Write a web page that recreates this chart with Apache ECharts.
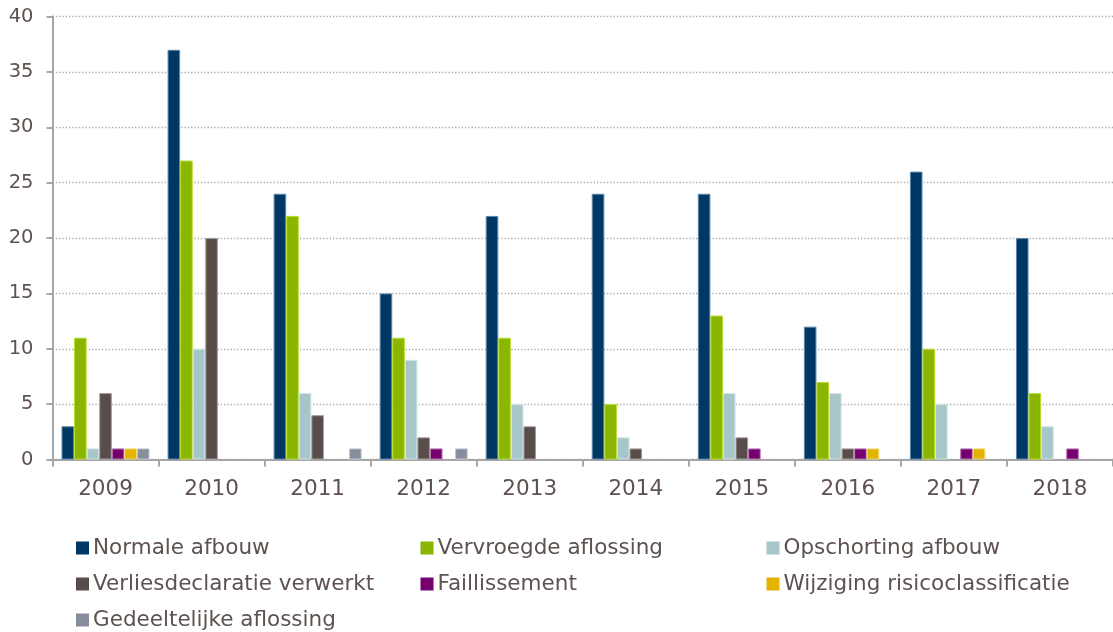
<!DOCTYPE html>
<html>
<head>
<meta charset="utf-8">
<script src="https://cdn.jsdelivr.net/npm/echarts@6/dist/echarts.min.js"></script>
<style>
  html, body { margin: 0; padding: 0; background: #fff; }
  #chart { width: 1113px; height: 632px; }
</style>
</head>
<body>
<div id="chart"></div>
<script>
// categorieën en waarden per reeks
const years = ['2009','2010','2011','2012','2013','2014','2015','2016','2017','2018']
const normaleAfbouw = [3, 37, 24, 15, 22, 24, 24, 12, 26, 20]
const vervroegdeAflossing = [11, 27, 22, 11, 11, 5, 13, 7, 10, 6]
const opschortingAfbouw = [1, 10, 6, 9, 5, 2, 6, 6, 5, 3]
const verliesdeclaratie = [6, 20, 4, 2, 3, 1, 2, 1, 0, 0]
const faillissement = [1, 0, 0, 1, 0, 0, 1, 1, 1, 1]
const wijziging = [1, 0, 0, 0, 0, 0, 0, 1, 1, 0]
const gedeeltelijkeAflossing = [1, 0, 1, 1, 0, 0, 0, 0, 0, 0]
const yTicks = [0, 5, 10, 15, 20, 25, 30, 35, 40]

const textColor = '#5e5250'
const font = 'DejaVu Sans'

const seriesDefs = [
    ['Normale afbouw', normaleAfbouw, '#003865', '#5f86a8'],
    ['Vervroegde aflossing', vervroegdeAflossing, '#8ab500', '#b9dc2a'],
    ['Opschorting afbouw', opschortingAfbouw, '#a7c6c9', '#d3e4e5'],
    ['Verliesdeclaratie verwerkt', verliesdeclaratie, '#594d4b', '#a59b99'],
    ['Faillissement', faillissement, '#76006e', '#b277ad'],
    ['Wijziging risicoclassificatie', wijziging, '#e3b300', '#f3d77a'],
    ['Gedeeltelijke aflossing', gedeeltelijkeAflossing, '#868d9c', '#c2c7cf']
]

// legenda in drie kolommen: elk item een eigen legend
const legendPos = [
    ['Normale afbouw', 76, 537],
    ['Vervroegde aflossing', 420.5, 537],
    ['Opschorting afbouw', 766.5, 537],
    ['Verliesdeclaratie verwerkt', 76, 573],
    ['Faillissement', 420.5, 573],
    ['Wijziging risicoclassificatie', 766.5, 573],
    ['Gedeeltelijke aflossing', 76, 609]
]

const chart = echarts.init(document.getElementById('chart'))

const option = {
    animation: false,
    textStyle: { fontFamily: font },
    grid: { left: 52.5, right: -4.5, top: 16.6, bottom: 172.5 },
    legend: legendPos.map(([name, left, top]) => ({
        left,
        top,
        padding: 0,
        itemWidth: 13,
        itemHeight: 13,
        icon: 'rect',
        selectedMode: false,
        data: [name],
        itemStyle: { borderWidth: 0 },
        textStyle: { fontFamily: font, fontSize: 21.5, color: textColor, lineHeight: 21, padding: [0, 0, 0, -1] }
    })),
    xAxis: {
        type: 'category',
        data: years,
        axisLine: { lineStyle: { color: '#a6a6a6', width: 2 } },
        axisTick: { show: true, length: 7, lineStyle: { color: '#a6a6a6', width: 2 } },
        axisLabel: { color: textColor, fontSize: 21.5, fontFamily: font, margin: 19 }
    },
    yAxis: {
        type: 'value',
        min: yTicks[0],
        max: yTicks[yTicks.length - 1],
        interval: yTicks[1] - yTicks[0],
        axisLine: { show: true, lineStyle: { color: '#a6a6a6', width: 2 } },
        axisTick: { show: true, length: 6, lineStyle: { color: '#a6a6a6', width: 2 } },
        axisLabel: { color: textColor, fontSize: 19.5, fontFamily: font, margin: 19 },
        splitLine: { lineStyle: { color: '#ababab', width: 1.3, type: [1.3, 2] } }
    },
    series: seriesDefs.map(([name, data, color, border]) => ({
        name,
        type: 'bar',
        // nulwaarden niet tekenen (anders zichtbare randlijn)
        data: data.map(v => v === 0 ? null : v),
        barGap: '0%',
        barCategoryGap: '17%',
        itemStyle: { color, borderColor: border, borderWidth: 1 },
        emphasis: { disabled: true }
    }))
}

chart.setOption(option)
</script>
</body>
</html>
